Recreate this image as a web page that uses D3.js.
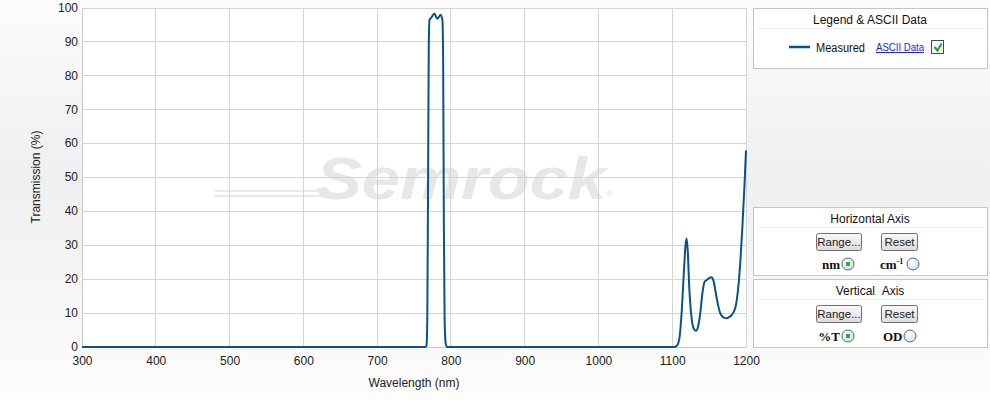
<!DOCTYPE html>
<html>
<head>
<meta charset="utf-8">
<script src="https://cdn.jsdelivr.net/npm/d3@7"></script>
<style>
  body { margin: 0; padding: 0; }
  svg { display: block; font-family: "Liberation Sans", Arial, sans-serif; }
</style>
</head>
<body>
<svg id="chart" width="990" height="400"></svg>
<script>
// ---- Data ----
const wavelengths = [300, 700, 760, 765, 767, 768, 769, 770, 771, 774, 777.5, 781.5, 786, 788.5, 789.5, 790.5, 791.5, 793, 795, 830, 1000, 1100, 1104, 1107, 1110, 1113, 1116, 1118, 1119.5, 1121, 1123, 1126, 1129, 1132, 1135, 1138, 1141, 1144, 1147, 1150, 1153, 1156, 1159, 1162, 1165, 1168, 1171, 1174, 1177, 1180, 1183, 1186, 1189, 1192, 1195, 1198, 1200];
const transmission = [0, 0, 0, 0, 0.5, 8, 45, 88, 96.5, 97.3, 98.4, 96.8, 97.9, 96.5, 85, 35, 8, 1, 0, 0, 0, 0, 0.1, 0.6, 3, 11, 23, 30, 32, 28.5, 18, 9, 5.5, 4.8, 6, 10, 16, 19.3, 19.8, 20.3, 20.6, 19.5, 16, 12.5, 10, 9, 8.6, 8.5, 8.8, 9.3, 10.2, 12, 16.5, 24, 35, 48, 58];
const seriesName = "Measured";
const xTicks = [300, 400, 500, 600, 700, 800, 900, 1000, 1100, 1200];
const yTicks = [0, 10, 20, 30, 40, 50, 60, 70, 80, 90, 100];

const svg = d3.select("#chart");
const W = 990, H = 400;
const defs = svg.append("defs");

// background gradient
const bg = defs.append("linearGradient").attr("id", "bg").attr("x1", 0).attr("y1", 0).attr("x2", 0).attr("y2", 1);
bg.append("stop").attr("offset", "0%").attr("stop-color", "#fcfcfc");
bg.append("stop").attr("offset", "45%").attr("stop-color", "#efefef");
bg.append("stop").attr("offset", "100%").attr("stop-color", "#fdfdfd");
svg.append("rect").attr("width", W).attr("height", H).attr("fill", "url(#bg)");

const L = 82, R = 746, T = 8, B = 347;
const x = d3.scaleLinear().domain([300, 1200]).range([L, R]);
const y = d3.scaleLinear().domain([0, 100]).range([B, T]);

svg.append("rect").attr("x", L).attr("y", T).attr("width", R - L).attr("height", B - T).attr("fill", "#ffffff");

// watermark
const wm = svg.append("g");
const rainbow = defs.append("linearGradient").attr("id", "rb").attr("x1", 0).attr("x2", 1);
[["0%", "#e8f4fb"], ["25%", "#e3f6f7"], ["45%", "#f4f8e0"], ["65%", "#fbf1de"], ["85%", "#fbe3e3"], ["100%", "#f4e6ee"]].forEach(s => rainbow.append("stop").attr("offset", s[0]).attr("stop-color", s[1]));
[157, 160, 163].forEach(yy => wm.append("line").attr("x1", 370).attr("x2", 578).attr("y1", yy).attr("y2", yy).attr("stroke", "url(#rb)").attr("stroke-width", 2));
[191, 196].forEach(yy => wm.append("line").attr("x1", 215).attr("x2", 325).attr("y1", yy).attr("y2", yy).attr("stroke", "#e9e9e9").attr("stroke-width", 2));
wm.append("text").attr("x", 316).attr("y", 199).attr("font-size", 60).attr("font-weight", "bold").attr("font-style", "italic")
  .attr("fill", "#e7e7e7").attr("textLength", 290).attr("lengthAdjust", "spacingAndGlyphs").text("Semrock");
wm.append("text").attr("x", 606).attr("y", 197).attr("font-size", 9).attr("fill", "#e4e4e4").text("®");

// grid
svg.append("g").selectAll("line").data(xTicks).join("line")
  .attr("x1", d => x(d)).attr("x2", d => x(d)).attr("y1", T).attr("y2", B)
  .attr("stroke", "#d4d4d4").attr("stroke-width", 1).attr("shape-rendering", "crispEdges");
svg.append("g").selectAll("line").data(yTicks).join("line")
  .attr("x1", L).attr("x2", R).attr("y1", d => y(d)).attr("y2", d => y(d))
  .attr("stroke", "#d4d4d4").attr("stroke-width", 1).attr("shape-rendering", "crispEdges");

// axes
const xAxis = svg.append("g").attr("transform", `translate(0,${B})`)
  .call(d3.axisBottom(x).tickValues(xTicks).tickSize(0).tickPadding(9).tickFormat(d3.format("d")));
const yAxis = svg.append("g").attr("transform", `translate(${L},0)`)
  .call(d3.axisLeft(y).tickValues(yTicks).tickSize(0).tickPadding(4).tickFormat(d3.format("d")));
[xAxis, yAxis].forEach(a => {
  a.select(".domain").attr("stroke", "#c8c8c8");
  a.selectAll("text").attr("font-size", 12).attr("fill", "#222").attr("font-family", "'Liberation Sans', Arial, sans-serif");
});
yAxis.selectAll("text").attr("dy", "0.28em");

svg.append("text").attr("x", 414).attr("y", 387).attr("text-anchor", "middle").attr("font-size", 12).attr("fill", "#222").text("Wavelength (nm)");
svg.append("text").attr("transform", "translate(40,177) rotate(-90)").attr("text-anchor", "middle").attr("font-size", 12).attr("fill", "#222").text("Transmission (%)");

// series
const data = wavelengths.map((w, i) => ({ w, t: transmission[i] }));
svg.append("path").datum(data)
  .attr("fill", "none").attr("stroke", "#0b5288").attr("stroke-width", 2).attr("stroke-linejoin", "round")
  .attr("d", d3.line().x(d => x(d.w)).y(d => y(d.t)).curve(d3.curveMonotoneX));

// ---- Panels ----
function panel(px, py, pw, ph, title) {
  const g = svg.append("g");
  g.append("rect").attr("x", px + 0.5).attr("y", py + 0.5).attr("width", pw).attr("height", ph)
    .attr("fill", "#ffffff").attr("stroke", "#c4c4c4");
  g.append("text").attr("x", px + pw / 2).attr("y", py + 16).attr("text-anchor", "middle").attr("font-size", 12).attr("fill", "#111")
    .attr("xml:space", "preserve").text(title);
  g.append("line").attr("x1", px + 3).attr("x2", px + pw - 3).attr("y1", py + 20.5).attr("y2", py + 20.5).attr("stroke", "#f0f0f0");
  return g;
}
const btnGrad = defs.append("linearGradient").attr("id", "btn").attr("x1", 0).attr("y1", 0).attr("x2", 0).attr("y2", 1);
btnGrad.append("stop").attr("offset", "0%").attr("stop-color", "#fafafa");
btnGrad.append("stop").attr("offset", "100%").attr("stop-color", "#dcdcdc");
function button(g, bx, by, bw, label) {
  g.append("rect").attr("x", bx + 0.5).attr("y", by + 0.5).attr("width", bw).attr("height", 17).attr("rx", 2)
    .attr("fill", "url(#btn)").attr("stroke", "#707070");
  g.append("text").attr("x", bx + bw / 2 + 0.5).attr("y", by + 13).attr("text-anchor", "middle").attr("font-size", 11.5).attr("fill", "#222").text(label);
}
const radGrad = defs.append("radialGradient").attr("id", "rad").attr("cx", "40%").attr("cy", "35%").attr("r", "70%");
radGrad.append("stop").attr("offset", "0%").attr("stop-color", "#ffffff");
radGrad.append("stop").attr("offset", "100%").attr("stop-color", "#d8dde4");
function radio(g, cx, cy, on) {
  g.append("circle").attr("cx", cx).attr("cy", cy).attr("r", 6).attr("fill", "url(#rad)").attr("stroke", "#3e6e9a").attr("stroke-width", 1);
  if (on) g.append("circle").attr("cx", cx).attr("cy", cy).attr("r", 2.3).attr("fill", "#2faa2f");
}
const serif = "'Liberation Serif', 'Times New Roman', serif";

// Legend panel
const lg = panel(753, 8, 234, 60, "Legend & ASCII Data");
lg.append("line").attr("x1", 789).attr("x2", 810).attr("y1", 47).attr("y2", 47).attr("stroke", "#0b5288").attr("stroke-width", 2.5);
lg.append("text").attr("x", 816).attr("y", 52).attr("font-size", 12).attr("fill", "#111")
  .attr("textLength", 49).attr("lengthAdjust", "spacingAndGlyphs").text(seriesName);
lg.append("text").attr("x", 876).attr("y", 51).attr("font-size", 10.5).attr("fill", "#2222ee").attr("text-decoration", "underline")
  .attr("textLength", 48).attr("lengthAdjust", "spacingAndGlyphs").text("ASCII Data");
lg.append("rect").attr("x", 931.5).attr("y", 40.5).attr("width", 12).attr("height", 13).attr("fill", "#f4f4f4").attr("stroke", "#34506a");
lg.append("path").attr("d", "M934.5,47 L937.5,50.5 L941.5,43.5").attr("fill", "none").attr("stroke", "#22a322").attr("stroke-width", 2);

// Horizontal axis panel
const hp = panel(753, 207, 234, 68, "Horizontal Axis");
button(hp, 816, 233, 45, "Range...");
button(hp, 881, 233, 36, "Reset");
hp.append("text").attr("x", 840).attr("y", 269).attr("text-anchor", "end").attr("font-size", 13).attr("font-weight", "bold").attr("font-family", serif).attr("fill", "#111").text("nm");
radio(hp, 848, 264, true);
const cm = hp.append("text").attr("x", 880).attr("y", 269).attr("font-size", 13).attr("font-weight", "bold").attr("font-family", serif).attr("fill", "#111");
cm.append("tspan").text("cm");
cm.append("tspan").attr("dy", -5).attr("font-size", 8).text("-1");
radio(hp, 913, 264, false);

// Vertical axis panel
const vp = panel(753, 279, 234, 68, "Vertical\u00a0\u00a0Axis");
button(vp, 816, 305, 45, "Range...");
button(vp, 881, 305, 36, "Reset");
vp.append("text").attr("x", 840).attr("y", 341).attr("text-anchor", "end").attr("font-size", 13).attr("font-weight", "bold").attr("font-family", serif).attr("fill", "#111").text("%T");
radio(vp, 848, 336, true);
vp.append("text").attr("x", 883).attr("y", 341).attr("font-size", 13).attr("font-weight", "bold").attr("font-family", serif).attr("fill", "#111").text("OD");
radio(vp, 910, 336, false);
</script>
</body>
</html>
